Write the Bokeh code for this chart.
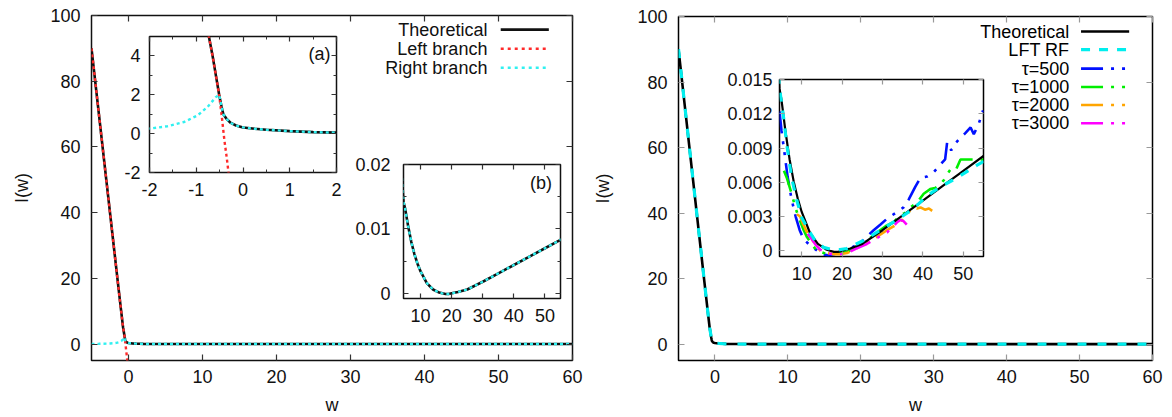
from bokeh.plotting import figure
from bokeh.models import GridBox, LinearAxis, FixedTicker, Range1d, CustomJSTickFormatter
from bokeh.embed import file_html
from bokeh.resources import INLINE
from bokeh.core.properties import value

FONT = "Liberation Sans"

# ---------------- data ----------------
theo_w = [-5, -4, -3, -2, -1.5, -1, -0.73, -0.65, -0.58, -0.51, -0.46, -0.42, -0.35, -0.26, -0.15,
          0, 0.25, 0.5, 1, 1.5, 2, 3, 4, 4.5, 5, 6, 7, 8, 9, 10, 12, 14, 16, 17, 18, 19, 20, 22, 25,
          30, 35, 40, 45, 50, 55, 60]
theo_I = [90, 70, 50, 30, 20, 10.2, 5, 4, 3, 2, 1.4, 1.0, 0.75, 0.55, 0.42,
          0.32, 0.25, 0.2, 0.13, 0.08, 0.05, 0.03, 0.018, 0.0142, 0.0132, 0.0104, 0.0080, 0.0061, 0.0046,
          0.0034, 0.0016, 0.0006, 0.00012, 0.0, -0.0001, -0.0001, 0.0, 0.0002, 0.0006,
          0.0018, 0.0031, 0.0044, 0.0057, 0.0070, 0.0083, 0.0096]

leftbr_tail_w = [-0.45, -0.40, -0.35, -0.31, -0.25, -0.15]
leftbr_tail_I = [0.8, -0.3, -1.2, -2.0, -3.2, -5.3]

rightbr_head_w = [-5, -4, -3, -2.5, -2, -1.62, -1.26, -0.97, -0.76, -0.58]
rightbr_head_I = [0.05, 0.08, 0.13, 0.18, 0.26, 0.38, 0.6, 0.94, 1.37, 1.88]

lft_inset_w = [4.4, 5.5, 6.3, 7.5, 8.8, 10, 11.7, 13.3, 15.4, 17.5, 19.5, 21.2, 25.3, 29.4, 33.6,
               37.7, 41, 44.3, 48.5, 53.4, 60]
lft_inset_I = [0.0145, 0.0117, 0.0093, 0.0064, 0.0044, 0.0029, 0.0018, 0.0009, 0.0003, 0.0001,
               0.0001, 0.0002, 0.0009, 0.0018, 0.0027, 0.0037, 0.0048, 0.0056, 0.0064, 0.0075, 0.0088]

t500_w = [4.5, 5.0, 5.5, 6.5, 7.5, 8.5, 9.5, 10.5, 12.0, 13.5, 15.0, 16.5, 18.0, 19.5, 21.0, 22.5,
          24.5, 26.0, 27.8, 29.5, 31.1, 33.6, 35.2, 36.5, 38.1, 39.4, 41.0, 42.7, 44.7, 45.5, 46.0,
          47.0, 48.0, 49.3, 50.5, 51.8, 52.6, 53.8, 54.9]
t500_I = [0.0122, 0.0105, 0.0092, 0.0065, 0.0045, 0.0030, 0.0018, 0.0010, 0.0005, 0.0001, -0.0003,
          -0.0004, -0.0003, -0.0001, 0.0000, 0.0003, 0.0007, 0.0012, 0.0018, 0.0023, 0.0028, 0.0034,
          0.0038, 0.0045, 0.0056, 0.0064, 0.0065, 0.0069, 0.0077, 0.0080, 0.0095, 0.0088, 0.0094,
          0.0099, 0.0103, 0.0108, 0.0102, 0.0111, 0.0123]

t1000_w = [5.6, 6.3, 7.5, 8.5, 9.6, 10.5, 11.3, 12.5, 13.7, 15.5, 17.0, 19.0, 21.2, 23.5, 26.1, 28.0,
           29.4, 31.0, 32.7, 34.4, 35.5, 36.9, 38.5, 40.2, 41.8, 43.0, 44.3, 45.2, 46.0, 47.2, 48.3,
           49.3, 51.0, 53.0, 55.0]
t1000_I = [0.0070, 0.0064, 0.0050, 0.0037, 0.0026, 0.0018, 0.0012, 0.0006, 0.0000, -0.0002, -0.0003,
           -0.0002, -0.0001, 0.0003, 0.0009, 0.0014, 0.0018, 0.0022, 0.0025, 0.0031, 0.0033, 0.0038,
           0.0042, 0.0050, 0.0054, 0.0055, 0.0058, 0.0062, 0.0067, 0.0073, 0.0072, 0.0080, 0.0080,
           0.0080, 0.0080]

t2000_w = [8.8, 9.6, 10.4, 11.2, 12.1, 13.3, 14.6, 16.2, 17.9, 19.5, 21.2, 23.5, 26.1, 28.5, 31.1,
           33.0, 34.4, 35.3, 36.1, 37.0, 37.7, 38.5, 39.4, 40.5, 41.5, 42.3]
t2000_I = [0.0032, 0.0030, 0.0023, 0.0017, 0.0012, 0.0006, 0.0000, -0.0002, -0.0003, -0.0003, -0.0002,
           0.0002, 0.0007, 0.0012, 0.0018, 0.0022, 0.0025, 0.0029, 0.0032, 0.0036, 0.0038, 0.0037,
           0.0038, 0.0036, 0.0037, 0.0035]

t3000_w = [11.5, 12.5, 13.5, 14.6, 16.2, 17.9, 19.5, 21.2, 23.5, 26.1, 28.5, 31.1, 32.5, 33.6, 34.5,
           35.2, 36.0]
t3000_I = [0.0015, 0.0010, 0.0005, 0.0001, -0.0002, -0.0003, -0.0003, -0.0002, 0.0002, 0.0006, 0.0011,
           0.0016, 0.0021, 0.0025, 0.0027, 0.0026, 0.0023]

main_xticks = [0, 10, 20, 30, 40, 50, 60]
main_xlabels = ["0", "10", "20", "30", "40", "50", "60"]
main_yticks = [0, 20, 40, 60, 80, 100]
main_ylabels = ["0", "20", "40", "60", "80", "100"]
a_xticks = [-2, -1, 0, 1, 2]
a_xlabels = ["-2", "-1", "0", "1", "2"]
a_xminor = [-1.5, -0.5, 0.5, 1.5]
a_yticks = [-2, 0, 2, 4]
a_ylabels = ["-2", "0", "2", "4"]
a_yminor = [-1, 1, 3]
b_xticks = [10, 20, 30, 40, 50]
b_xlabels = ["10", "20", "30", "40", "50"]
b_yticks = [0, 0.01, 0.02]
b_ylabels = ["0", "0.01", "0.02"]
b_yminor = [0.005, 0.015]
r_yticks = [0, 0.003, 0.006, 0.009, 0.012, 0.015]
r_ylabels = ["0", "0.003", "0.006", "0.009", "0.012", "0.015"]

left_legend = ["Theoretical", "Left branch", "Right branch"]
right_legend = ["Theoretical", "LFT RF", "τ=500", "τ=1000", "τ=2000", "τ=3000"]

# derived series (built from the read values above)
leftbr_w = [w for w in theo_w if w <= -0.51] + leftbr_tail_w
leftbr_I = [v for w, v in zip(theo_w, theo_I) if w <= -0.51] + leftbr_tail_I
rightbr_w = rightbr_head_w + [w for w in theo_w if w >= -0.51]
rightbr_I = rightbr_head_I + [v for w, v in zip(theo_w, theo_I) if w >= -0.51]
lft_w = [w for w in theo_w if w < 4.4] + lft_inset_w
lft_I = [v for w, v in zip(theo_w, theo_I) if w < 4.4] + lft_inset_I

RED = "#ff2a2a"
CYAN_L = "#30f0f0"
CYAN = "#00eeee"
BLUE = "#0010ff"
GREEN = "#00ee00"
ORANGE = "#ffa500"
MAGENTA = "#ff00ff"
TXT = "#111111"
DASHDOT = "22 8 3 8 3 8"


def base_fig(w, h, xr, yr, bl, br, bt, bb, inset=False):
    p = figure(width=w, height=h, x_range=Range1d(*xr), y_range=Range1d(*yr),
               output_backend="svg", toolbar_location=None, frame_align=False,
               min_border_left=bl, min_border_right=br, min_border_top=bt, min_border_bottom=bb)
    p.grid.visible = False
    p.outline_line_color = "#111111"
    p.outline_line_width = 1.5
    p.background_fill_color = "white"
    if inset:
        p.border_fill_color = None
    return p


def style_axes(p, xt, xl, yt, yl, xminor=(), yminor=(), tick_color="#333333", tick_len=6,
               xstand=10, ystand=10, fs="18px"):
    xa = p.below[0]
    ya = p.left[0]
    for ax, t, l, mn, st in ((xa, xt, xl, xminor, xstand), (ya, yt, yl, yminor, ystand)):
        ax.ticker = FixedTicker(ticks=list(t), minor_ticks=list(mn))
        ax.major_label_overrides = {tv: lab for tv, lab in zip(t, l)}
        ax.major_label_text_font = FONT
        ax.major_label_text_font_size = fs
        ax.major_label_text_color = TXT
        ax.major_label_standoff = st
        ax.axis_line_color = None
        ax.major_tick_in = tick_len
        ax.major_tick_out = 0
        ax.minor_tick_in = max(tick_len - 2, 2)
        ax.minor_tick_out = 0
        ax.major_tick_line_color = tick_color
        ax.minor_tick_line_color = tick_color
        ax.major_tick_line_width = 1.2
    for side, t, mn in (("above", xt, xminor), ("right", yt, yminor)):
        ax = LinearAxis(ticker=FixedTicker(ticks=list(t), minor_ticks=list(mn)),
                        formatter=CustomJSTickFormatter(code="return ''"))
        ax.major_label_text_font_size = "0px"
        ax.major_label_standoff = 0
        ax.axis_line_color = None
        ax.major_tick_in = tick_len
        ax.major_tick_out = 0
        ax.minor_tick_in = max(tick_len - 2, 2)
        ax.minor_tick_out = 0
        ax.major_tick_line_color = tick_color
        ax.minor_tick_line_color = tick_color
        ax.major_tick_line_width = 1.2
        p.add_layout(ax, side)


def axis_titles(p, xs, ystand):
    p.below[0].axis_label = "w"
    p.left[0].axis_label = "I(w)"
    for ax, st in ((p.below[0], xs), (p.left[0], ystand)):
        ax.axis_label_text_font = FONT
        ax.axis_label_text_font_size = "18px"
        ax.axis_label_text_font_style = "normal"
        ax.axis_label_text_color = TXT
        ax.axis_label_standoff = st


# ---------------- left panel ----------------
pL = base_fig(590, 417, (-5, 60), (-5, 100), 91, 18, 15, 56)
style_axes(pL, main_xticks, main_xlabels, main_yticks, main_ylabels, tick_len=6, xstand=9, ystand=11)
axis_titles(pL, 9, 15)
pL.line(theo_w, theo_I, line_color="#111111", line_width=2.6)
pL.line(leftbr_w, leftbr_I, line_color=RED, line_width=2.4, line_dash="3 3")
pL.line(rightbr_w, rightbr_I, line_color=CYAN_L, line_width=2.4, line_dash="3 3")

legL_y = [95.7, 89.9, 84.1]
pL.text(x=[48.5] * 3, y=legL_y, text=left_legend, text_align="right", text_baseline="middle",
        text_font=value(FONT), text_font_size="18px", text_color=TXT)
pL.line([50.3, 56.8], [legL_y[0]] * 2, line_color="#111111", line_width=2.6)
pL.line([50.3, 56.8], [legL_y[1]] * 2, line_color=RED, line_width=2.4, line_dash="3 4")
pL.line([50.3, 56.8], [legL_y[2]] * 2, line_color=CYAN_L, line_width=2.4, line_dash="3 4")

# inset (a)
pA = base_fig(239, 184, (-2, 2), (-2, 5), 40, 12, 12, 36, inset=True)
pA.margin = (24, 0, 0, 109)
style_axes(pA, a_xticks, a_xlabels, a_yticks, a_ylabels, a_xminor, a_yminor, tick_len=5,
           xstand=10, ystand=9)
pA.line(theo_w, theo_I, line_color="#111111", line_width=2.6)
pA.line(leftbr_w, leftbr_I, line_color=RED, line_width=2.4, line_dash="3 3")
pA.line(rightbr_w, rightbr_I, line_color=CYAN_L, line_width=2.4, line_dash="3 3")
pA.text(x=[1.87], y=[4.11], text=["(a)"], text_align="right", text_baseline="middle",
        text_font=value(FONT), text_font_size="18px", text_color=TXT)

# inset (b)
pB = base_fig(224, 182, (4.5, 55), (-0.0008, 0.02), 55, 12, 12, 36, inset=True)
pB.margin = (152, 0, 0, 348)
style_axes(pB, b_xticks, b_xlabels, b_yticks, b_ylabels, (), b_yminor, tick_len=5,
           xstand=10, ystand=13)
pB.line(theo_w, theo_I, line_color="#111111", line_width=2.6)
pB.line(rightbr_w, rightbr_I, line_color=CYAN_L, line_width=2.4, line_dash="3 3")
pB.text(x=[52.3], y=[0.0171], text=["(b)"], text_align="right", text_baseline="middle",
        text_font=value(FONT), text_font_size="18px", text_color=TXT)

# ---------------- right panel ----------------
pR = base_fig(582, 417, (-5, 60), (-5, 100), 83, 20, 16, 57)
pR.outline_line_color = "black"
style_axes(pR, main_xticks, main_xlabels, main_yticks, main_ylabels, tick_color="#999999",
           tick_len=6, xstand=9, ystand=11)
axis_titles(pR, 9, 21)
pR.line(theo_w, theo_I, line_color="black", line_width=2.6)
pR.line(lft_w, lft_I, line_color=CYAN, line_width=3.2, line_dash="9 11")

legR_y = [95.4, 89.9, 84.1, 78.5, 73.0, 67.4]
pR.text(x=[48.6] * 6, y=legR_y, text=right_legend, text_align="right", text_baseline="middle",
        text_font=value(FONT), text_font_size="18px", text_color="black")
pR.line([50.2, 56.8], [legR_y[0]] * 2, line_color="black", line_width=2.6)
pR.line([50.2, 56.8], [legR_y[1]] * 2, line_color=CYAN, line_width=3.2, line_dash="9 9")
for yy, col in zip(legR_y[2:], [BLUE, GREEN, ORANGE, MAGENTA]):
    pR.line([50.2, 56.8], [yy, yy], line_color=col, line_width=2.6, line_dash=DASHDOT)

# right inset
pRi = base_fig(278, 225, (4.5, 55), (-0.0005, 0.015), 62, 12, 12, 36, inset=True)
pRi.margin = (67, 0, 0, 127)
pRi.outline_line_color = "black"
style_axes(pRi, b_xticks, b_xlabels, r_yticks, r_ylabels, tick_color="#999999", tick_len=5,
           xstand=10, ystand=7)
pRi.line(t500_w, t500_I, line_color=BLUE, line_width=2.6, line_dash=DASHDOT)
pRi.line(t1000_w, t1000_I, line_color=GREEN, line_width=2.6, line_dash=DASHDOT)
pRi.line(t2000_w, t2000_I, line_color=ORANGE, line_width=2.6, line_dash=DASHDOT)
pRi.line(t3000_w, t3000_I, line_color=MAGENTA, line_width=2.6, line_dash=DASHDOT)
pRi.line(theo_w, theo_I, line_color="black", line_width=2.2)
pRi.line(lft_w, lft_I, line_color=CYAN, line_width=3.2, line_dash="9 9")

grid = GridBox(children=[(pL, 0, 0), (pA, 0, 0), (pB, 0, 0), (pR, 0, 1), (pRi, 0, 1)], spacing=0)

open("out.html", "w").write(file_html(grid, INLINE))
